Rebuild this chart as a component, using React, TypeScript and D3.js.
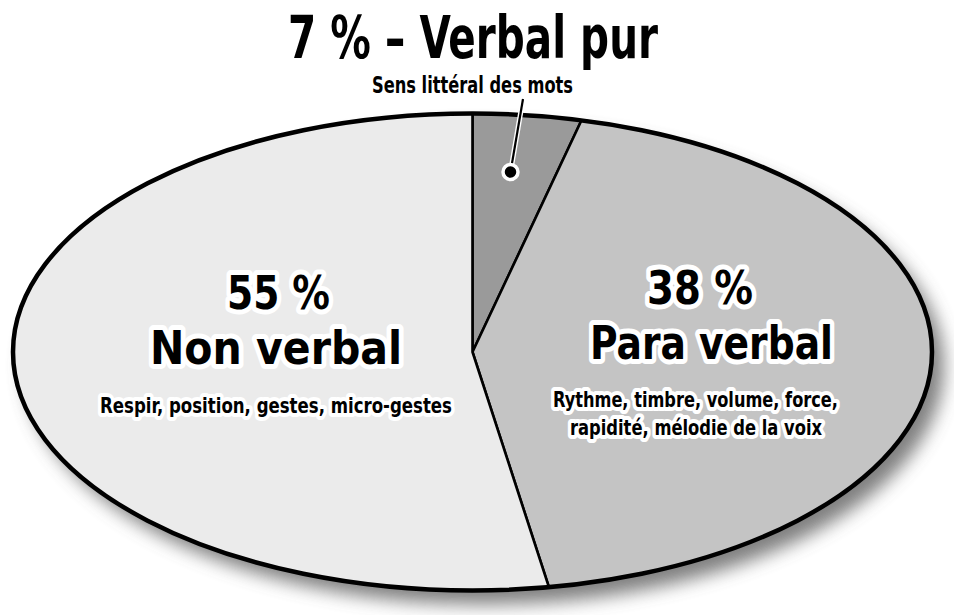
import { useEffect, useRef } from "react";
import * as d3 from "d3";

// Data
const categories = ["Verbal pur", "Para verbal", "Non verbal"];
const shares = [7, 38, 55];
const details = [
  ["Sens littéral des mots"],
  ["Rythme, timbre, volume, force,", "rapidité, mélodie de la voix"],
  ["Respir, position, gestes, micro-gestes"],
];
const fills = ["#9a9a9a", "#c4c4c4", "#ebebeb"];

const W = 954;
const H = 615;
const FONT = "'Liberation Sans Narrow', 'DejaVu Sans Condensed', 'Liberation Sans', sans-serif";

type Line = { x: number; y: number; text: string; size: number; width: number };

export default function App() {
  const ref = useRef<SVGSVGElement | null>(null);

  useEffect(() => {
    if (!ref.current) return;
    const svg = d3.select(ref.current);
    svg.selectAll("*").remove();

    const cx = 472.5;
    const cy = 352;
    const rx = 459.5;
    const ry = 238.5;

    // polar angle (clockwise from 12 o'clock) -> point on the ellipse
    const onEllipse = (a: number) => {
      const r = 1 / Math.sqrt((Math.sin(a) / rx) ** 2 + (Math.cos(a) / ry) ** 2);
      return [cx + r * Math.sin(a), cy - r * Math.cos(a)];
    };

    const pie = d3.pie<number>().sort(null).value((d) => d);
    const arcs = pie(shares);

    const defs = svg.append("defs");
    const blur = defs
      .append("filter")
      .attr("id", "shadow")
      .attr("x", "-20%")
      .attr("y", "-20%")
      .attr("width", "140%")
      .attr("height", "140%");
    blur.append("feGaussianBlur").attr("stdDeviation", 9);

    // soft drop shadow under the ellipse
    svg
      .append("ellipse")
      .attr("cx", cx + 12)
      .attr("cy", cy + 14)
      .attr("rx", rx)
      .attr("ry", ry)
      .attr("fill", "#555")
      .attr("opacity", 0.75)
      .attr("filter", "url(#shadow)");

    const slicePath = (a0: number, a1: number) => {
      const [x0, y0] = onEllipse(a0);
      const [x1, y1] = onEllipse(a1);
      const large = a1 - a0 > Math.PI ? 1 : 0;
      return `M${cx},${cy}L${x0},${y0}A${rx},${ry} 0 ${large} 1 ${x1},${y1}Z`;
    };

    svg
      .append("g")
      .selectAll("path")
      .data(arcs)
      .join("path")
      .attr("d", (d) => slicePath(d.startAngle, d.endAngle))
      .attr("fill", (_d, i) => fills[i])
      .attr("stroke", "#000")
      .attr("stroke-width", 2.6)
      .attr("stroke-linejoin", "round");

    svg
      .append("ellipse")
      .attr("cx", cx)
      .attr("cy", cy)
      .attr("rx", rx)
      .attr("ry", ry)
      .attr("fill", "none")
      .attr("stroke", "#000")
      .attr("stroke-width", 4.5);

    // a label block: one <text>, one tspan per line, squeezed to the measured width
    const block = (lines: Line[], halo: number) => {
      const t = svg
        .append("text")
        .attr("text-anchor", "middle")
        .attr("font-family", FONT)
        .attr("font-weight", "bold")
        .attr("fill", "#000");
      if (halo > 0) {
        t.attr("stroke", "#fff")
          .attr("stroke-width", halo)
          .attr("stroke-linejoin", "round")
          .attr("paint-order", "stroke");
      }
      lines.forEach((l) => {
        t.append("tspan")
          .attr("x", l.x)
          .attr("y", l.y)
          .attr("font-size", l.size)
          .attr("textLength", l.width)
          .attr("lengthAdjust", "spacingAndGlyphs")
          .text(l.text);
      });
    };

    // title + callout for the small slice
    block([{ x: 473, y: 58, text: `${shares[0]} % – ${categories[0]}`, size: 58, width: 370 }], 0);
    block([{ x: 472.5, y: 93, text: details[0][0], size: 23, width: 201 }], 0);

    const [lx1, ly1, lx2, ly2] = [523, 99, 510.5, 172];
    svg
      .append("line")
      .attr("x1", lx1)
      .attr("y1", ly1)
      .attr("x2", lx2)
      .attr("y2", ly2)
      .attr("stroke", "#fff")
      .attr("stroke-width", 5);
    svg
      .append("line")
      .attr("x1", lx1)
      .attr("y1", ly1)
      .attr("x2", lx2)
      .attr("y2", ly2)
      .attr("stroke", "#000")
      .attr("stroke-width", 2.2);
    svg
      .append("circle")
      .attr("cx", lx2)
      .attr("cy", ly2)
      .attr("r", 7.5)
      .attr("fill", "#000")
      .attr("stroke", "#fff")
      .attr("stroke-width", 3.5);

    // Non verbal
    block(
      [
        { x: 278.5, y: 309, text: `${shares[2]} %`, size: 47, width: 103 },
        { x: 276, y: 364, text: categories[2], size: 47, width: 252 },
      ],
      10
    );
    block([{ x: 276, y: 413, text: details[2][0], size: 21, width: 352 }], 8);

    // Para verbal
    block(
      [
        { x: 700, y: 304, text: `${shares[1]} %`, size: 47, width: 106 },
        { x: 711.5, y: 359, text: categories[1], size: 47, width: 243 },
      ],
      10
    );
    block(
      [
        { x: 695.5, y: 407, text: details[1][0], size: 21, width: 285 },
        { x: 696, y: 435, text: details[1][1], size: 21, width: 252 },
      ],
      8
    );
  }, []);

  return (
    <svg
      ref={ref}
      width={W}
      height={H}
      viewBox={`0 0 ${W} ${H}`}
      style={{ position: "absolute", left: 0, top: 0, background: "#fff" }}
    />
  );
}
